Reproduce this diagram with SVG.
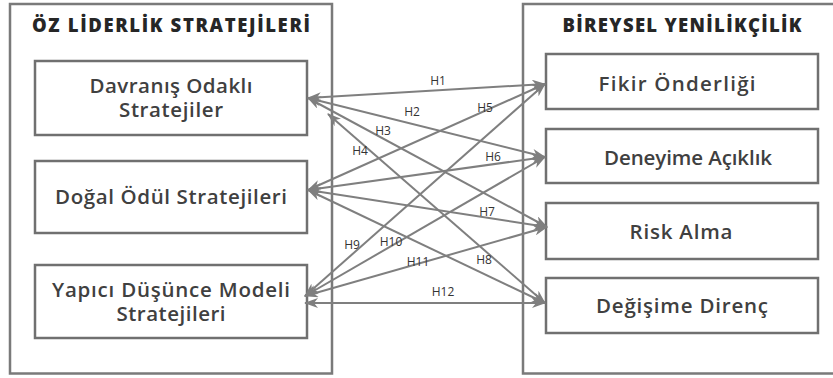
<svg xmlns="http://www.w3.org/2000/svg" width="833" height="378" viewBox="0 0 833 378">
<defs>
<marker id="ah" viewBox="0 0 14 10" refX="13" refY="5" markerWidth="14" markerHeight="10" markerUnits="userSpaceOnUse" orient="auto-start-reverse">
<path d="M0,0 L14,5 L0,10 L4,5 z" fill="#7f7f7f"/>
</marker>
<style>
.outer{fill:none;stroke:#7a7a7a;stroke-width:2.5}
.box{fill:#fff;stroke:#707070;stroke-width:2.5}
.title{font-family:"Open Sans",sans-serif;font-weight:800;font-size:18.5px;fill:#262626;text-anchor:middle}
.nt{font-family:"Open Sans",sans-serif;font-weight:600;font-size:20.5px;fill:#404040;text-anchor:middle}
.cn line{stroke:#7f7f7f;stroke-width:2;marker-start:url(#ah);marker-end:url(#ah)}
.lbl{font-family:"Open Sans",sans-serif;font-size:12px;fill:#333;text-anchor:middle}
</style>
</defs>
<rect width="833" height="378" fill="#fff"/>
<g id="group-left">
<rect class="outer" x="10" y="4" width="322" height="369.5"/>
<text class="title" x="171" y="32" textLength="278" lengthAdjust="spacing">ÖZ LİDERLİK STRATEJİLERİ</text>
</g>
<g id="group-right">
<path class="outer" d="M836,4 H523 V373.5 H836"/>
<text class="title" x="682" y="32" textLength="239" lengthAdjust="spacing">BİREYSEL YENİLİKÇİLİK</text>
</g>
<g id="node-davranis">
<rect class="box" x="35" y="61" width="272" height="74"/>
<text class="nt" x="171" y="93" textLength="163" lengthAdjust="spacing">Davranış Odaklı</text>
<text class="nt" x="171" y="117" textLength="104" lengthAdjust="spacing">Stratejiler</text>
</g>
<g id="node-dogal">
<rect class="box" x="35" y="161" width="272" height="72"/>
<text class="nt" x="171" y="204" textLength="232" lengthAdjust="spacing">Doğal Ödül Stratejileri</text>
</g>
<g id="node-yapici">
<rect class="box" x="35" y="265" width="272" height="73"/>
<text class="nt" x="171" y="297" textLength="238" lengthAdjust="spacing">Yapıcı Düşünce Modeli</text>
<text class="nt" x="171" y="321" textLength="109" lengthAdjust="spacing">Stratejileri</text>
</g>
<g id="node-fikir">
<rect class="box" x="546" y="54" width="272" height="55"/>
<text class="nt" x="677" y="91" textLength="157" lengthAdjust="spacing">Fikir Önderliği</text>
</g>
<g id="node-deneyime">
<rect class="box" x="546" y="129" width="272" height="54"/>
<text class="nt" x="688" y="165" textLength="168" lengthAdjust="spacing">Deneyime Açıklık</text>
</g>
<g id="node-risk">
<rect class="box" x="546" y="203" width="272" height="56"/>
<text class="nt" x="681" y="239" textLength="103" lengthAdjust="spacing">Risk Alma</text>
</g>
<g id="node-degisime">
<rect class="box" x="546" y="278" width="272" height="55"/>
<text class="nt" x="682" y="313" textLength="172" lengthAdjust="spacing">Değişime Direnç</text>
</g>
<g id="connectors" class="cn">
<line x1="308" y1="98" x2="545" y2="84"/>
<line x1="308" y1="98" x2="545" y2="157"/>
<line x1="308" y1="98" x2="547" y2="227"/>
<line x1="328" y1="114" x2="545" y2="303"/>
<line x1="308" y1="190" x2="545" y2="84"/>
<line x1="308" y1="190" x2="545" y2="157"/>
<line x1="308" y1="190" x2="547" y2="227"/>
<line x1="308" y1="190" x2="545" y2="303"/>
<line x1="305" y1="296" x2="545" y2="84"/>
<line x1="305" y1="296" x2="545" y2="157"/>
<line x1="305" y1="296" x2="547" y2="227"/>
<line x1="305" y1="303" x2="545" y2="303"/>
</g>
<g id="labels">
<text class="lbl" x="438" y="85">H1</text>
<text class="lbl" x="412" y="116">H2</text>
<text class="lbl" x="383" y="135">H3</text>
<text class="lbl" x="360" y="155">H4</text>
<text class="lbl" x="485" y="112">H5</text>
<text class="lbl" x="493" y="161">H6</text>
<text class="lbl" x="487" y="216">H7</text>
<text class="lbl" x="484" y="264">H8</text>
<text class="lbl" x="352" y="249">H9</text>
<text class="lbl" x="391" y="246">H10</text>
<text class="lbl" x="418" y="266">H11</text>
<text class="lbl" x="443" y="296">H12</text>
</g>
</svg>
